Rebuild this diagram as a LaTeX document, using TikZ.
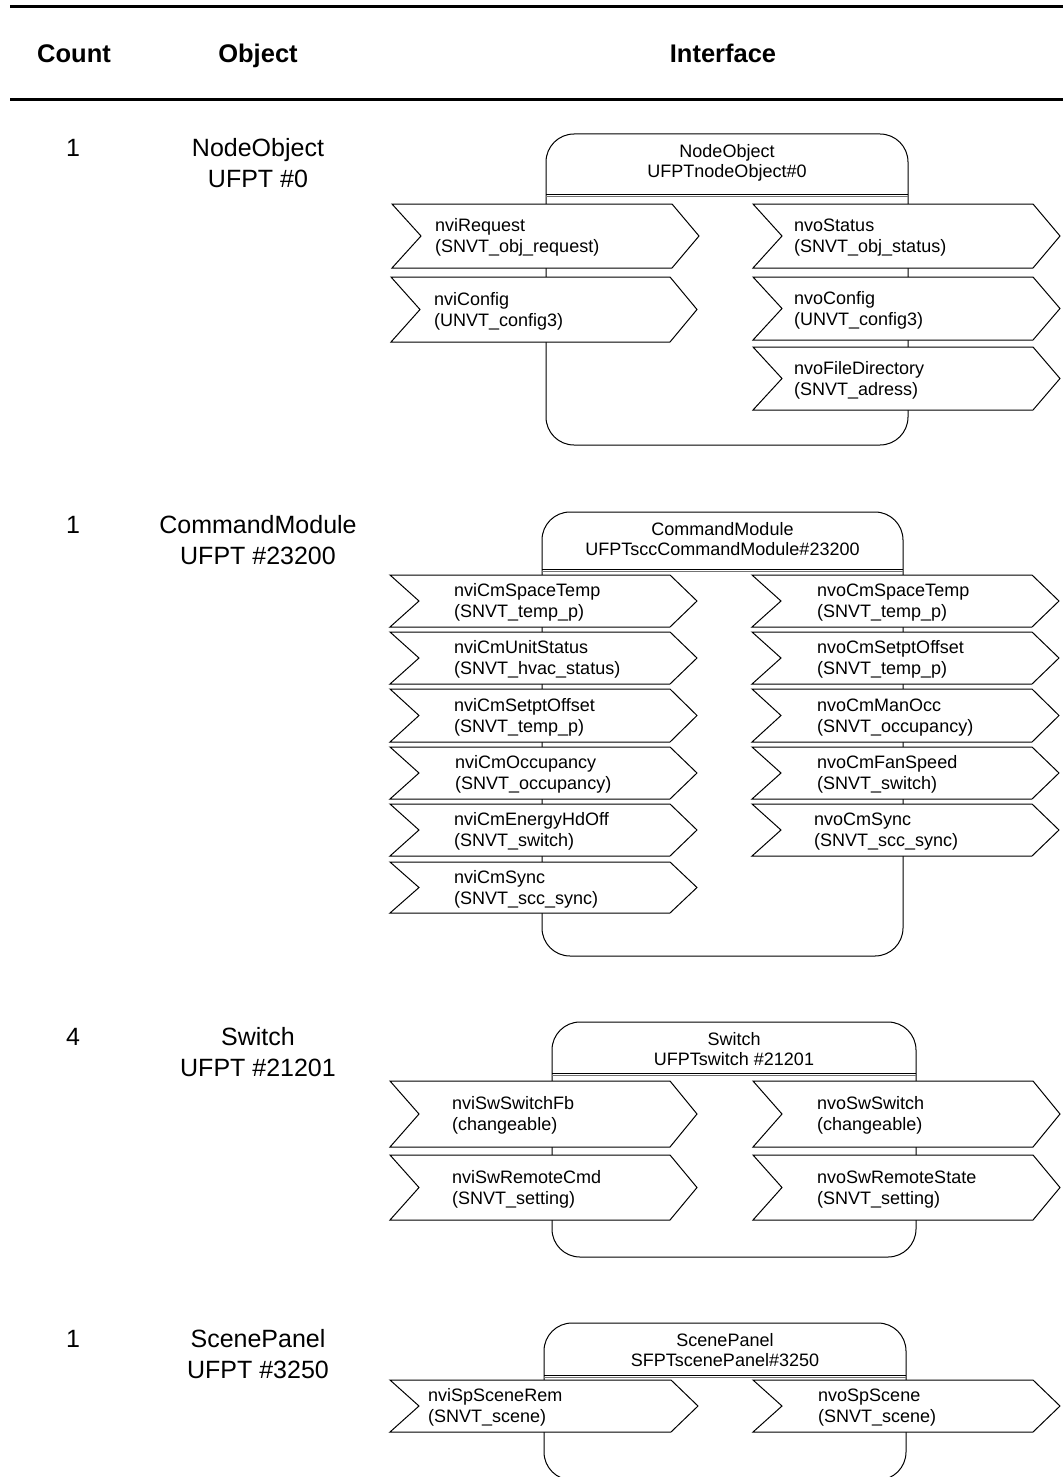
\documentclass[tikz,border=0pt]{standalone}
\usepackage{fontspec}
\setmainfont{Liberation Sans}

% two left-aligned lines, baseline on the first line
\newcommand\twoleft[2]{\vtop{\hbox{#1}\hbox{#2}}}
% two centred lines, baseline on the first line
\newcommand\twocenter[2]{\vtop{\halign{\hfil##\hfil\cr #1\cr #2\cr}}}

% interface box: name, left, right, top, separator, bottom, title, type
\newcommand\nvbox[8]{%
  \draw[boxline, rounded corners=28pt] (#2,#4) rectangle (#3,#6);
  \draw[boxline] (#2,#5) -- (#3,#5);
  \draw[boxline, draw=black!55] (#2,#5+2.2) -- (#3,#5+2.2);
  \node[titletext, anchor=base] (#1) at ({(#2+#3)/2},#4+23.5) {\twocenter{#7}{#8}};
}

% network variable chevron: name, left, tip, top, bottom, text x, variable, type
\newcommand\nvport[8]{%
  \draw[port] (#2,#4) -- (#3-27,#4) -- (#3,{(#4+#5)/2}) -- (#3-27,#5)
    -- (#2,#5) -- (#2+29,{(#4+#5)/2}) -- cycle;
  \node[porttext, anchor=base west] (#1) at (#6,{(#4+#5)/2-4.5}) {\twoleft{#7}{#8}};
}

\begin{document}
\begin{tikzpicture}[x=1pt, y=-1pt,
  headtext/.style={font=\fontsize{25.5}{30}\selectfont\bfseries, inner sep=0pt},
  objtext/.style={font=\fontsize{25}{31}\selectfont, inner sep=0pt},
  titletext/.style={font=\fontsize{18}{19.5}\selectfont, inner sep=0pt},
  porttext/.style={font=\fontsize{18}{21}\selectfont, inner sep=0pt},
  boxline/.style={draw=black, line width=1pt},
  port/.style={draw=black, fill=white, line width=1pt, line join=miter},
  rule/.style={draw=black, line width=3pt}]

\useasboundingbox (0,0) rectangle (1063,1477);
\clip (0,0) rectangle (1063,1477);
\fill[white] (0,0) rectangle (1063,1477);

% table header
\coordinate (ruleTopL) at (10,7);
\coordinate (ruleTopR) at (1063,7);
\coordinate (ruleBotL) at (10,100);
\coordinate (ruleBotR) at (1063,100);
\draw[rule] (ruleTopL) -- (ruleTopR);
\draw[rule] (ruleBotL) -- (ruleBotR);
\node[headtext, anchor=base] (hCount) at (74,63) {Count};
\node[headtext, anchor=base] (hObject) at (258,63) {Object};
\node[headtext, anchor=base] (hInterface) at (723,63) {Interface};

% row 1: NodeObject
\node[objtext, anchor=base] (c1) at (73,157) {1};
\node[objtext, anchor=base] (o1) at (258,157) {\twocenter{NodeObject}{UFPT \#0}};
\nvbox{b1}{546}{908}{134}{194}{445}{NodeObject}{UFPTnodeObject\#0}
\nvport{b1i1}{392}{699}{204}{268}{435}{nviRequest}{(SNVT\_obj\_request)}
\nvport{b1i2}{391}{697}{277}{342}{434}{nviConfig}{(UNVT\_config3)}
\nvport{b1o1}{753}{1060}{204}{268}{794}{nvoStatus}{(SNVT\_obj\_status)}
\nvport{b1o2}{753}{1060}{277}{340}{794}{nvoConfig}{(UNVT\_config3)}
\nvport{b1o3}{753}{1060}{347}{410}{794}{nvoFileDirectory}{(SNVT\_adress)}

% row 2: CommandModule
\node[objtext, anchor=base] (c2) at (73,533) {1};
\node[objtext, anchor=base] (o2) at (258,533) {\twocenter{CommandModule}{UFPT \#23200}};
\nvbox{b2}{542}{903}{512}{569}{956}{CommandModule}{UFPTsccCommandModule\#23200}
\nvport{b2i1}{390}{697}{575}{627}{454}{nviCmSpaceTemp}{(SNVT\_temp\_p)}
\nvport{b2i2}{390}{697}{632}{684}{454}{nviCmUnitStatus}{(SNVT\_hvac\_status)}
\nvport{b2i3}{390}{697}{689}{742}{454}{nviCmSetptOffset}{(SNVT\_temp\_p)}
\nvport{b2i4}{390}{697}{747}{799}{455}{nviCmOccupancy}{(SNVT\_occupancy)}
\nvport{b2i5}{390}{697}{804}{856}{454}{nviCmEnergyHdOff}{(SNVT\_switch)}
\nvport{b2i6}{390}{697}{862}{913}{454}{nviCmSync}{(SNVT\_scc\_sync)}
\nvport{b2o1}{752}{1059}{575}{627}{817}{nvoCmSpaceTemp}{(SNVT\_temp\_p)}
\nvport{b2o2}{752}{1059}{632}{684}{817}{nvoCmSetptOffset}{(SNVT\_temp\_p)}
\nvport{b2o3}{752}{1059}{689}{742}{817}{nvoCmManOcc}{(SNVT\_occupancy)}
\nvport{b2o4}{752}{1059}{747}{799}{817}{nvoCmFanSpeed}{(SNVT\_switch)}
\nvport{b2o5}{752}{1059}{804}{856}{814}{nvoCmSync}{(SNVT\_scc\_sync)}

% row 3: Switch
\node[objtext, anchor=base] (c3) at (73,1045) {4};
\node[objtext, anchor=base] (o3) at (258,1045) {\twocenter{Switch}{UFPT \#21201}};
\nvbox{b3}{552}{916}{1022}{1073}{1257}{Switch}{UFPTswitch \#21201}
\nvport{b3i1}{390}{697}{1081}{1147}{452}{nviSwSwitchFb}{(changeable)}
\nvport{b3i2}{390}{697}{1155}{1220}{452}{nviSwRemoteCmd}{(SNVT\_setting)}
\nvport{b3o1}{753}{1060}{1081}{1147}{817}{nvoSwSwitch}{(changeable)}
\nvport{b3o2}{753}{1060}{1155}{1220}{817}{nvoSwRemoteState}{(SNVT\_setting)}

% row 4: ScenePanel
\node[objtext, anchor=base] (c4) at (73,1347) {1};
\node[objtext, anchor=base] (o4) at (258,1347) {\twocenter{ScenePanel}{UFPT \#3250}};
\nvbox{b4}{544}{906}{1323}{1375}{1480}{ScenePanel}{SFPTscenePanel\#3250}
\nvport{b4i1}{390}{698}{1380}{1432}{428}{nviSpSceneRem}{(SNVT\_scene)}
\nvport{b4o1}{753}{1060}{1380}{1432}{818}{nvoSpScene}{(SNVT\_scene)}

\end{tikzpicture}
\end{document}
